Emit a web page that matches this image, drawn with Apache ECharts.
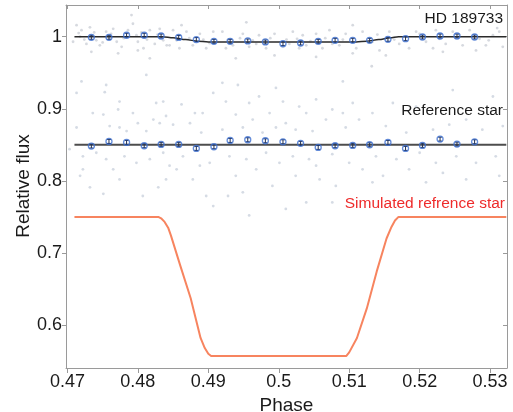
<!DOCTYPE html>
<html>
<head>
<meta charset="utf-8">
<script src="https://cdn.jsdelivr.net/npm/echarts@6/dist/echarts.min.js"></script>
<style>
  html, body { margin: 0; padding: 0; background: #fff; }
  #main { width: 513px; height: 412px; }
</style>
</head>
<body>
<div id="main"></div>
<script>
// binned light curve points (phase, flux)
var binPhase = [0.4734, 0.4759, 0.4784, 0.4809, 0.4833, 0.4858, 0.4883, 0.4908, 0.4931, 0.4956, 0.4981, 0.5006,
  0.5031, 0.5056, 0.5080, 0.5105, 0.5129, 0.5155, 0.5180, 0.5204, 0.5229, 0.5253, 0.5278];
var hdBinned = [0.9992, 0.9992, 1.002, 1.002, 1.001, 0.999, 0.996, 0.9936, 0.9936, 0.9941, 0.9927, 0.9904,
  0.9913, 0.9936, 0.995, 0.995, 0.995, 0.9964, 0.9973, 0.9996, 1.001, 1.001, 0.9996];
var refBinned = [0.8483, 0.8547, 0.8533, 0.8487, 0.8506, 0.8506, 0.8450, 0.8473, 0.8561, 0.857, 0.8556, 0.8542,
  0.852, 0.8464, 0.8487, 0.8492, 0.8501, 0.8533, 0.845, 0.8492, 0.8579, 0.851, 0.8542];
var binErr = 0.0028;

// model curves
var hdModelPhase = [0.471, 0.4835, 0.4850, 0.4868, 0.4885, 0.4900, 0.5110, 0.5125, 0.5142, 0.5158, 0.5170, 0.5323];
var hdModelFlux = [1.0, 1.0, 0.9985, 0.996, 0.9938, 0.9926, 0.9926, 0.9938, 0.996, 0.9985, 1.0, 1.0];
var refModelPhase = [0.471, 0.5323];
var refModelFlux = [0.85, 0.85];

// simulated reference star
var simPhase = [0.4710, 0.4829, 0.4833, 0.4838, 0.4843, 0.4847, 0.4860, 0.4875, 0.4889, 0.4895, 0.4900, 0.4904,
  0.5096, 0.5100, 0.5111, 0.5125, 0.5139, 0.5153, 0.5160, 0.5165, 0.5170, 0.5323];
var simFlux = [0.75, 0.75, 0.748, 0.743, 0.735, 0.724, 0.683, 0.637, 0.582, 0.568, 0.560, 0.557,
  0.557, 0.562, 0.582, 0.623, 0.674, 0.720, 0.736, 0.745, 0.75, 0.75];

// raw photometry (estimated from the figure)
var hdScatter = [
  [0.4713, 1.016], [0.4720, 1.009], [0.4732, 1.013], [0.4708, 0.993], [0.4727, 0.990], [0.4741, 0.995],
  [0.4746, 0.988], [0.4755, 1.007], [0.4765, 1.011], [0.4770, 0.993], [0.4777, 0.986], [0.4786, 1.009],
  [0.4791, 1.030], [0.4793, 1.018], [0.4800, 0.993], [0.4808, 0.984], [0.4817, 1.009], [0.4824, 0.990],
  [0.4831, 1.011], [0.4841, 0.988], [0.4850, 1.009], [0.4859, 0.984], [0.4869, 1.007], [0.4878, 0.988],
  [0.4888, 1.004], [0.4897, 0.984], [0.4907, 1.007], [0.4734, 0.979], [0.4772, 0.977], [0.4800, 0.981],
  [0.4817, 0.970], [0.4845, 0.988], [0.4862, 1.016], [0.4902, 0.991], [0.4718, 1.000], [0.4760, 0.997],
  [0.4798, 1.002], [0.4836, 0.995], [0.4716, 1.005], [0.4724, 0.996], [0.4738, 1.006], [0.4750, 0.992],
  [0.4762, 1.004], [0.4780, 0.998], [0.4805, 1.006], [0.4813, 0.996], [0.4828, 1.003], [0.4855, 0.995],
  [0.4873, 0.998], [0.4893, 0.996],
  [0.4920, 1.007], [0.4935, 0.988], [0.4954, 1.020], [0.4958, 0.986], [0.4972, 1.002], [0.4982, 0.984],
  [0.4994, 1.004], [0.5006, 0.986], [0.5020, 1.007], [0.5029, 0.984], [0.5039, 0.988], [0.5053, 1.004],
  [0.5062, 0.984], [0.5072, 1.009], [0.5086, 0.988], [0.5095, 1.004], [0.5110, 0.984], [0.5119, 1.007],
  [0.4939, 0.970], [0.4994, 0.974], [0.5053, 0.972], [0.5105, 0.977], [0.4925, 0.984], [0.4968, 0.990],
  [0.5015, 0.990], [0.5076, 0.990], [0.4949, 1.004], [0.5034, 1.002], [0.5105, 1.016], [0.4928, 0.996],
  [0.4945, 0.998], [0.4963, 0.995], [0.4988, 0.998], [0.5011, 0.996], [0.5026, 0.997], [0.5045, 0.994],
  [0.5066, 0.998], [0.5091, 0.996], [0.5132, 0.959],
  [0.5133, 0.993], [0.5143, 0.981], [0.5157, 1.007], [0.5171, 0.990], [0.5185, 0.984], [0.5195, 1.007],
  [0.5209, 0.993], [0.5223, 1.009], [0.5237, 0.990], [0.5247, 1.007], [0.5261, 0.988], [0.5271, 1.009],
  [0.5285, 0.997], [0.5294, 0.988], [0.5304, 1.002], [0.5313, 1.007], [0.5318, 0.986], [0.5152, 0.974],
  [0.5233, 0.979], [0.5280, 0.981], [0.5181, 1.000], [0.5219, 0.984], [0.5140, 1.003], [0.5164, 0.996],
  [0.5200, 1.004], [0.5228, 0.997], [0.5256, 1.003], [0.5298, 0.995], [0.5310, 1.012]
];
var refScatter = [
  [0.4720, 0.938], [0.4713, 0.922], [0.4755, 0.933], [0.4753, 0.923], [0.4812, 0.947], [0.4774, 0.910],
  [0.4826, 0.908], [0.4836, 0.910], [0.4736, 0.894], [0.4751, 0.892], [0.4772, 0.899], [0.4793, 0.894],
  [0.4822, 0.885], [0.4840, 0.890], [0.4862, 0.906], [0.4881, 0.894], [0.4892, 0.894], [0.4907, 0.922],
  [0.4713, 0.874], [0.4760, 0.876], [0.4774, 0.874], [0.4784, 0.869], [0.4800, 0.880], [0.4812, 0.869],
  [0.4831, 0.880], [0.4850, 0.878], [0.4874, 0.880], [0.4890, 0.867], [0.4722, 0.834], [0.4741, 0.839],
  [0.4755, 0.830], [0.4765, 0.816], [0.4781, 0.834], [0.4798, 0.825], [0.4817, 0.830], [0.4836, 0.839],
  [0.4845, 0.821], [0.4864, 0.834], [0.4888, 0.821], [0.4902, 0.825], [0.4718, 0.807], [0.4732, 0.791],
  [0.4751, 0.782], [0.4774, 0.802], [0.4807, 0.779], [0.4829, 0.791], [0.4840, 0.802], [0.4855, 0.816],
  [0.4878, 0.802], [0.4897, 0.779], [0.4907, 0.765], [0.4722, 0.816], [0.4703, 0.844],
  [0.4920, 0.936], [0.4942, 0.933], [0.4996, 0.929], [0.5091, 0.938], [0.4925, 0.910], [0.4958, 0.908],
  [0.4972, 0.917], [0.5006, 0.910], [0.5029, 0.903], [0.5053, 0.913], [0.5076, 0.899], [0.5105, 0.908],
  [0.4939, 0.892], [0.4963, 0.885], [0.4987, 0.894], [0.5010, 0.880], [0.5039, 0.894], [0.5067, 0.885],
  [0.5091, 0.894], [0.5114, 0.885], [0.4920, 0.871], [0.4949, 0.874], [0.4977, 0.867], [0.4996, 0.874],
  [0.5024, 0.871], [0.5048, 0.869], [0.5095, 0.874], [0.4930, 0.834], [0.4954, 0.830], [0.4982, 0.839],
  [0.5001, 0.825], [0.5020, 0.834], [0.5043, 0.830], [0.5053, 0.821], [0.5076, 0.837], [0.5100, 0.825],
  [0.5119, 0.816], [0.4939, 0.807], [0.4968, 0.816], [0.4991, 0.793], [0.5024, 0.807], [0.5058, 0.802],
  [0.5081, 0.793], [0.4928, 0.779], [0.4949, 0.784], [0.5039, 0.770], [0.5010, 0.761], [0.4958, 0.752],
  [0.5076, 0.770],
  [0.5133, 0.894], [0.5162, 0.908], [0.5195, 0.903], [0.5247, 0.926], [0.5266, 0.885], [0.5304, 0.917],
  [0.5152, 0.876], [0.5181, 0.867], [0.5219, 0.871], [0.5242, 0.878], [0.5289, 0.871], [0.5318, 0.876],
  [0.5138, 0.834], [0.5167, 0.830], [0.5200, 0.839], [0.5223, 0.825], [0.5252, 0.834], [0.5280, 0.825],
  [0.5308, 0.834], [0.5148, 0.807], [0.5185, 0.816], [0.5233, 0.811], [0.5266, 0.802], [0.5313, 0.807],
  [0.5133, 0.798], [0.5209, 0.798]
];

// axis ticks
var xTicks = [0.47, 0.48, 0.49, 0.5, 0.51, 0.52, 0.53];
var yTicks = [0.6, 0.7, 0.8, 0.9, 1];

var FONT = 'Liberation Sans, Arial, sans-serif';
var AXIS_COLOR = '#9a9a9a';

function zip(a, b) {
  return a.map(function (v, i) { return [v, b[i]]; });
}
function withErr(ys) {
  return binPhase.map(function (x, i) { return [x, ys[i], binErr]; });
}
function fmt(v) { return String(Number(v.toFixed(2))); }

function renderErr(params, api) {
  var x = api.value(0), y = api.value(1), e = api.value(2);
  var top = api.coord([x, y + e]);
  var bot = api.coord([x, y - e]);
  var st = { stroke: '#1f2f55', lineWidth: 1 };
  return {
    type: 'group',
    children: [
      { type: 'line', shape: { x1: top[0], y1: top[1], x2: bot[0], y2: bot[1] }, style: st },
      { type: 'line', shape: { x1: top[0] - 2, y1: top[1], x2: top[0] + 2, y2: top[1] }, style: st },
      { type: 'line', shape: { x1: bot[0] - 2, y1: bot[1], x2: bot[0] + 2, y2: bot[1] }, style: st }
    ]
  };
}

var myChart = echarts.init(document.getElementById('main'));

var option = {
  animation: false,
  backgroundColor: '#fff',
  grid: { left: 66, right: 6, top: 5, bottom: 44, outerBoundsMode: 'none' },
  xAxis: [
    {
      type: 'value', position: 'bottom', min: 0.4698, max: 0.5324,
      name: 'Phase', nameLocation: 'middle', nameGap: 20,
      nameTextStyle: { fontSize: 19, color: '#1a1a1a', fontFamily: FONT },
      axisLine: { show: true, lineStyle: { color: AXIS_COLOR, width: 1 } },
      axisTick: { show: true, customValues: xTicks, length: 5, lineStyle: { color: AXIS_COLOR } },
      axisLabel: { customValues: xTicks, formatter: fmt, fontSize: 18, color: '#1a1a1a', fontFamily: FONT, margin: 5 },
      splitLine: { show: false }
    },
    {
      type: 'value', position: 'top', min: 0.4698, max: 0.5324,
      axisLine: { show: true, lineStyle: { color: AXIS_COLOR, width: 1 } },
      axisTick: { show: true, inside: true, customValues: xTicks, length: 4, lineStyle: { color: AXIS_COLOR } },
      axisLabel: { show: false },
      splitLine: { show: false }
    }
  ],
  yAxis: [
    {
      type: 'value', position: 'left', min: 0.5403, max: 1.044,
      axisLine: { show: true, lineStyle: { color: AXIS_COLOR, width: 1 } },
      axisTick: { show: true, customValues: yTicks, length: 4, lineStyle: { color: AXIS_COLOR } },
      axisLabel: { customValues: yTicks, formatter: fmt, fontSize: 18, color: '#1a1a1a', fontFamily: FONT, margin: 4 },
      splitLine: { show: false }
    },
    {
      type: 'value', position: 'right', min: 0.5403, max: 1.044,
      axisLine: { show: true, lineStyle: { color: AXIS_COLOR, width: 1 } },
      axisTick: { show: true, inside: true, customValues: yTicks, length: 4, lineStyle: { color: AXIS_COLOR } },
      axisLabel: { show: false },
      splitLine: { show: false }
    }
  ],
  graphic: [
    {
      type: 'text', x: 24, y: 186, rotation: Math.PI / 2,
      style: { text: 'Relative flux', font: '19px ' + FONT, fill: '#1a1a1a', textAlign: 'center', textVerticalAlign: 'middle' }
    },
    { type: 'text', right: 10, top: 11, style: { text: 'HD 189733', font: '15.5px ' + FONT, fill: '#1a1a1a' } },
    { type: 'text', right: 10, top: 103, style: { text: 'Reference star', font: '15.5px ' + FONT, fill: '#1a1a1a' } },
    { type: 'text', right: 8, top: 196, style: { text: 'Simulated refrence star', font: '15.5px ' + FONT, fill: '#ee2b2b' } }
  ],
  series: [
    {
      type: 'scatter', data: hdScatter, symbolSize: 2.8, silent: true,
      itemStyle: { color: 'rgba(170,176,188,0.6)' }, z: 1
    },
    {
      type: 'scatter', data: refScatter, symbolSize: 2.8, silent: true,
      itemStyle: { color: 'rgba(168,180,198,0.6)' }, z: 1
    },
    {
      type: 'line', data: zip(hdModelPhase, hdModelFlux), showSymbol: false, smooth: 0.3, smoothMonotone: 'x',
      lineStyle: { color: '#2a2a2a', width: 1.5 }, z: 3
    },
    {
      type: 'line', data: zip(refModelPhase, refModelFlux), showSymbol: false,
      lineStyle: { color: '#4d4d4d', width: 2 }, z: 3
    },
    {
      type: 'line', data: zip(simPhase, simFlux), showSymbol: false,
      lineStyle: { color: '#f7845f', width: 2, join: 'round' }, z: 3
    },
    { type: 'custom', data: withErr(hdBinned), renderItem: renderErr, z: 4, silent: true },
    { type: 'custom', data: withErr(refBinned), renderItem: renderErr, z: 4, silent: true },
    {
      type: 'scatter', data: zip(binPhase, hdBinned), symbol: 'circle', symbolSize: 6,
      itemStyle: { color: 'rgba(255,255,255,0)', borderColor: '#3d6fd0', borderWidth: 1.3 }, z: 5
    },
    {
      type: 'scatter', data: zip(binPhase, refBinned), symbol: 'circle', symbolSize: 6,
      itemStyle: { color: 'rgba(255,255,255,0)', borderColor: '#3d6fd0', borderWidth: 1.3 }, z: 5
    }
  ]
};

myChart.setOption(option);
window.onresize = myChart.resize;
</script>
</body>
</html>
